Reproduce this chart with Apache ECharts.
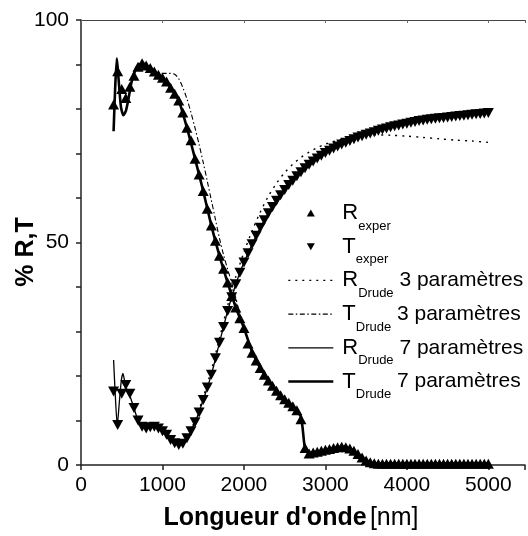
<!DOCTYPE html>
<html><head><meta charset="utf-8">
<script src="https://cdn.jsdelivr.net/npm/echarts@6/dist/echarts.min.js"></script>
<style>html,body{margin:0;padding:0;background:#fff}#c{width:528px;height:536px}</style>
</head><body><div id="c"></div>
<script>
// Experimental wavelengths (nm)
const wlExper = [400,450,500,550,600,650,700,750,800,850,900,950,1000,1050,1100,1150,1200,1250,1300,1350,1400,1450,1500,1550,1600,1650,1700,1750,1800,1850,1900,1950,2000,2050,2100,2150,2200,2250,2300,2350,2400,2450,2500,2550,2600,2650,2700,2750,2800,2850,2900,2950,3000,3050,3100,3150,3200,3250,3300,3350,3400,3450,3500,3550,3600,3650,3700,3750,3800,3850,3900,3950,4000,4050,4100,4150,4200,4250,4300,4350,4400,4450,4500,4550,4600,4650,4700,4750,4800,4850,4900,4950,5000];
// R_exper (up triangles, descending curve)
const rExper = [81,88.5,84.5,82.5,85,87.5,89.5,90.3,89.8,89.2,88.4,87.7,87,86.2,84.8,83.4,81.9,79.2,75.8,73,68.8,65.3,61.6,57.6,53.8,50.4,47,44.1,41,38,35.4,33,30.8,27.3,25.2,23.5,21.8,20.3,19,17.8,16.7,15.7,14.8,14,13.2,12.3,10.3,3.8,2.6,2.8,3,3.2,3.4,3.6,3.8,4,4.1,4,3.7,3.2,2.5,1.7,1,0.6,0.4,0.3,0.3,0.3,0.3,0.3,0.3,0.3,0.3,0.3,0.3,0.3,0.3,0.3,0.3,0.3,0.3,0.3,0.3,0.3,0.3,0.3,0.3,0.3,0.3,0.3,0.3,0.3,0.3];
// T_exper (down triangles, ascending curve)
const tExper = [16.5,9,16,18,16,12.8,10,8.6,8.2,8.5,8.6,8.2,7.6,6.8,5.6,4.9,4.5,4.8,6,7.6,9.6,11.8,14.6,17.4,20.3,24,27.5,31,34.6,37.7,40.6,43.2,45.5,47.6,49.6,51.5,53.3,55,56.6,58,59.4,60.6,61.8,62.9,63.9,64.9,65.8,66.7,67.5,68.2,68.9,69.5,70.1,70.6,71.1,71.6,72,72.4,72.8,73.2,73.6,73.9,74.2,74.5,74.8,75.1,75.4,75.6,75.9,76.1,76.3,76.5,76.7,76.9,77.1,77.3,77.4,77.6,77.7,77.8,77.9,78,78.1,78.2,78.3,78.4,78.5,78.6,78.7,78.8,78.9,79,79.1];

// R_Drude 3 parameters (dotted)
const wlR3 = [1000,1100,1200,1300,1400,1500,1600,1700,1800,1900,2000,2100,2200,2300,2400,2500,2600,2700,2800,2900,3000,3200,3400,3600,3800,4000,4200,4400,4600,4800,5000];
const rDrude3 = [7.2,5.6,5,6.6,10,15.2,21.3,28.5,35.8,42.3,47.8,52.6,56.8,60.4,63.3,65.7,67.6,69.1,70.3,71.3,72.1,73.2,73.9,74.2,74.1,73.9,73.6,73.3,73,72.8,72.5];
// T_Drude 3 parameters (dash-dot)
const wlT3 = [650,700,800,900,1000,1050,1100,1150,1200,1250,1300,1350,1400,1450,1500,1550,1600,1650,1700,1750,1800,1850,1900,1950,2000,2050,2100];
const tDrude3 = [87.5,89.4,89.4,88.5,88,88,88,87.8,86.8,84.8,82.3,79.2,75.7,72,68,63.8,59.5,55.2,50.9,47.2,44,41,37.5,34,31,27.8,25.3];
// R_Drude 7 parameters (thin solid)
const wlR7 = [400,420,445,470,495,515,540,570,610,650,700,750,800,900,1000,1100,1200,1300,1400,1500,1600,1700,1800,1900,2000,2200,2400,2600,2800,3000,3200,3400,3600,3800,4000,4200,4400,4600,4800,5000];
const rDrude7 = [23.6,16,8.8,14,19,20.6,18.5,16.5,15,12.8,10,8.6,8.2,8.6,7.6,5.6,4.5,6,9.6,14.6,20.3,27.5,34.6,40.6,45.5,53.3,59.4,63.9,67.5,70.1,72,73.6,74.8,75.9,76.7,77.4,77.9,78.3,78.7,79.1];
// T_Drude 7 parameters (thick solid)
const wlT7 = [400,420,440,460,490,520,550,580,620,660,700,750,800,900,1000,1100,1200,1300,1400,1500,1600,1700,1800,1900,2000,2100,2200,2300,2400,2500,2600,2700,2750,2800,2900,3000,3100,3200,3300,3400,3500,3600,3800,4000,4500,5000];
const tDrude7 = [75,85,91.4,87,80.5,78.6,79.5,82,86,88.5,89.8,90.3,89.8,88.4,87,84.8,81.9,75.8,68.8,61.6,53.8,47,41,35.4,30.8,25.5,21.8,19,16.7,14.8,13.2,10.8,3.6,2.7,3,3.4,3.8,4.1,3.7,2.5,1,0.4,0.3,0.3,0.3,0.3];

const xTicks = [0,1000,2000,3000,4000,5000];
const yTickLabels = [0,50,100];

const zip = (xs, ys) => xs.map((x, i) => [x, ys[i]]);
const FONT = '"Liberation Sans", Arial, sans-serif';
const UP = 'path://M5,0L10,8.66L0,8.66Z';
const DOWN = 'path://M0,0L10,0L5,8.66Z';

const legendText = {
  R_exper: '{a|R}{s|exper}',
  T_exper: '{a|T}{s|exper}',
  R_Drude3: '{a|R}{s|Drude}{b| 3 paramètres}',
  T_Drude3: '{a|T}{s|Drude}{b| 3 paramètres}',
  R_Drude7: '{a|R}{s|Drude}{b| 7 paramètres}',
  T_Drude7: '{a|T}{s|Drude}{b| 7 paramètres}'
};

const chart = echarts.init(document.getElementById('c'), null, {renderer: 'canvas'});
const axisCommon = {min: 0, max: 5450, interval: 1000};
const noSym = {opacity: 0};
chart.setOption({
  backgroundColor: '#fff',
  animation: false,
  textStyle: {fontFamily: FONT, color: '#000'},
  grid: {left: 81, top: 20, right: 1.5, bottom: 71, containLabel: false},
  xAxis: [{
    type: 'value', position: 'bottom', ...axisCommon,
    axisLine: {show: true, lineStyle: {color: '#222', width: 1.5}},
    axisTick: {show: true, inside: false, length: 5, lineStyle: {color: '#222', width: 1.5}},
    axisLabel: {show: true, margin: 10, fontSize: 21, color: '#000', fontFamily: FONT,
      formatter: v => xTicks.indexOf(v) >= 0 ? String(v) : ''},
    splitLine: {show: false}
  }, {
    type: 'value', position: 'top', ...axisCommon,
    axisLine: {show: true, lineStyle: {color: '#444', width: 1.2}},
    axisTick: {show: true, inside: true, length: 3, lineStyle: {color: '#666', width: 1}},
    axisLabel: {show: false},
    splitLine: {show: false}
  }],
  yAxis: {
    type: 'value', min: 0, max: 100, interval: 10,
    axisLine: {show: true, lineStyle: {color: '#222', width: 1.5}},
    axisTick: {show: true, inside: false, length: 5, lineStyle: {color: '#222', width: 1.5}},
    axisLabel: {show: true, margin: 12, fontSize: 21, color: '#000', fontFamily: FONT,
      formatter: v => yTickLabels.indexOf(v) >= 0 ? String(v) : ''},
    splitLine: {show: false}
  },
  legend: {
    orient: 'vertical', left: 287, top: 202, padding: 0,
    itemWidth: 45, itemHeight: 7, itemGap: 3.2,
    selectedMode: false,
    formatter: name => legendText[name],
    textStyle: {
      color: '#000', fontFamily: FONT,
      rich: {
        a: {fontSize: 22, fontFamily: FONT, color: '#000', verticalAlign: 'middle', padding: [0, 0, 0, 4]},
        s: {fontSize: 13, fontFamily: FONT, color: '#000', padding: [26, 0, 0, 0], verticalAlign: 'middle'},
        b: {fontSize: 21, fontFamily: FONT, color: '#000', verticalAlign: 'middle'}
      }
    },
    data: [
      {name: 'R_exper', icon: UP, itemStyle: {color: '#000', opacity: 1}},
      {name: 'T_exper', icon: DOWN, itemStyle: {color: '#000', opacity: 1}},
      {name: 'R_Drude3', itemStyle: noSym, lineStyle: {width: 1.4, type: [2, 5], color: '#000'}},
      {name: 'T_Drude3', itemStyle: noSym, lineStyle: {width: 1.1, type: [5, 2.5, 1.5, 2.5], color: '#000'}},
      {name: 'R_Drude7', itemStyle: noSym, lineStyle: {width: 1.3, type: 'solid', color: '#000'}},
      {name: 'T_Drude7', itemStyle: noSym, lineStyle: {width: 2.6, type: 'solid', color: '#000'}}
    ]
  },
  graphic: [
    {type: 'text', x: 26, y: 252, rotation: Math.PI / 2,
      style: {text: '% R,T', font: 'bold 25px ' + FONT, fill: '#000', align: 'center', verticalAlign: 'middle'}},
    {type: 'text', x: 291, y: 518,
      style: {text: "{b|Longueur d'onde} {n|[nm]}", align: 'center', verticalAlign: 'middle', fill: '#000',
        rich: {b: {fontSize: 25, fontWeight: 'bold', fontFamily: FONT, fill: '#000'},
               n: {fontSize: 25, fontFamily: FONT, fill: '#000'}}}}
  ],
  series: [
    {name: 'R_exper', type: 'scatter', data: zip(wlExper, rExper), symbol: UP, symbolSize: [11, 10],
      itemStyle: {color: '#000', opacity: 1}, z: 2},
    {name: 'T_exper', type: 'scatter', data: zip(wlExper, tExper), symbol: DOWN, symbolSize: [11, 10],
      itemStyle: {color: '#000', opacity: 1}, z: 2},
    {name: 'R_Drude3', type: 'line', data: zip(wlR3, rDrude3), symbol: 'none', smooth: 0.3,
      lineStyle: {color: '#000', width: 1.4, type: [2, 5]}, itemStyle: {color: '#000'}, z: 3},
    {name: 'T_Drude3', type: 'line', data: zip(wlT3, tDrude3), symbol: 'none', smooth: 0.3,
      lineStyle: {color: '#000', width: 1.1, type: [5, 2.5, 1.5, 2.5]}, itemStyle: {color: '#000'}, z: 3},
    {name: 'R_Drude7', type: 'line', data: zip(wlR7, rDrude7), symbol: 'none', smooth: 0.2,
      lineStyle: {color: '#000', width: 1.3}, itemStyle: {color: '#000'}, z: 3},
    {name: 'T_Drude7', type: 'line', data: zip(wlT7, tDrude7), symbol: 'none', smooth: 0.2,
      lineStyle: {color: '#000', width: 2.6}, itemStyle: {color: '#000'}, z: 3}
  ]
});
</script></body></html>
